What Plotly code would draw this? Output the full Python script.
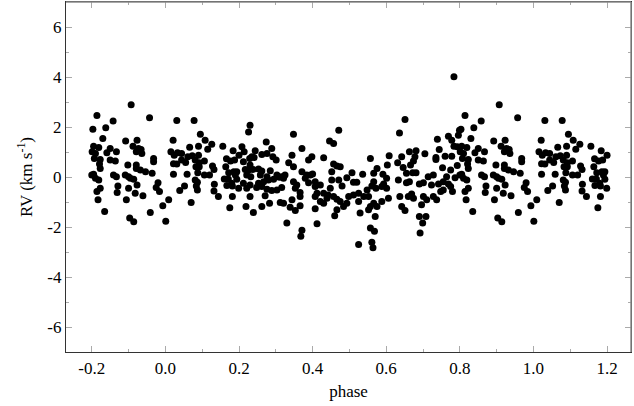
import plotly.graph_objects as go

# phase-folded radial velocities, one cycle (phase 0..1)
phase = [
    0.031, 0.078, 0.095, 0.108, 0.021, 0.126, 0.115, 0.066, 0.090, 0.156, 0.184, 0.015,
    0.033, 0.044, 0.024, 0.061, 0.073, 0.090, 0.081, 0.106, 0.092, 0.128, 0.166, 0.177,
    0.188, 0.022, 0.031, 0.044, 0.055, 0.083, 0.092, 0.132, 0.088, 0.106, 0.120, 0.059,
    0.022, 0.164, 0.172, 0.186, 0.081, 0.087, 0.160, 0.171, 0.180, 0.133, 0.167, 0.182,
    0.084, 0.087, 0.052, 0.039, 0.132, 0.144, 0.182, 0.009, 0.070, 0.175, 0.001,
    # 0.19 - 0.39
    0.230, 0.226, 0.348, 0.274, 0.289, 0.208, 0.214, 0.200, 0.244, 0.262, 0.276, 0.371,
    0.344, 0.235, 0.229, 0.241, 0.292, 0.301, 0.212, 0.230, 0.335, 0.348, 0.389, 0.217,
    0.226, 0.238, 0.253, 0.262, 0.285, 0.194, 0.190, 0.221, 0.232, 0.258, 0.276, 0.303,
    0.316, 0.325, 0.371, 0.384, 0.194, 0.212, 0.230, 0.253, 0.267, 0.280, 0.294, 0.310,
    0.321, 0.348, 0.357, 0.380, 0.389, 0.199, 0.221, 0.248, 0.262, 0.276, 0.289, 0.303,
    0.316, 0.353, 0.366, 0.230, 0.271, 0.366, 0.344, 0.312, 0.321, 0.283, 0.262, 0.219,
    0.239, 0.339, 0.353, 0.366, 0.330, 0.371, 0.368,
    # 0.39 - 0.60
    0.471, 0.446, 0.457, 0.398, 0.430, 0.557, 0.457, 0.466, 0.475, 0.575, 0.591, 0.566,
    0.394, 0.400, 0.452, 0.507, 0.536, 0.493, 0.511, 0.520, 0.471, 0.452, 0.566, 0.593,
    0.407, 0.421, 0.407, 0.480, 0.448, 0.561, 0.548, 0.572, 0.588, 0.412, 0.407, 0.430,
    0.442, 0.421, 0.430, 0.439, 0.457, 0.466, 0.475, 0.498, 0.511, 0.525, 0.539, 0.552,
    0.525, 0.493, 0.484, 0.557, 0.566, 0.575, 0.588, 0.407, 0.466, 0.460, 0.529, 0.552,
    0.570, 0.412, 0.557, 0.568, 0.525, 0.561, 0.564,
    # 0.60 - 0.80
    0.784, 0.651, 0.636, 0.739, 0.769, 0.778, 0.796, 0.799, 0.744, 0.784, 0.793, 0.608,
    0.642, 0.663, 0.681, 0.705, 0.735, 0.760, 0.778, 0.678, 0.674, 0.666, 0.603, 0.631,
    0.646, 0.681, 0.672, 0.655, 0.753, 0.775, 0.793, 0.735, 0.601, 0.633, 0.655, 0.663,
    0.690, 0.701, 0.714, 0.728, 0.723, 0.742, 0.755, 0.764, 0.787, 0.800, 0.769, 0.775,
    0.780, 0.755, 0.748, 0.601, 0.637, 0.660, 0.669, 0.674, 0.701, 0.710, 0.728, 0.737,
    0.606, 0.642, 0.651, 0.696, 0.690, 0.708, 0.699, 0.692,
    # 0.80 - 1.00
    0.907, 0.814, 0.957, 0.858, 0.838, 0.803, 0.830, 0.892, 0.923, 0.805, 0.819, 0.912,
    0.927, 0.934, 0.850, 0.801, 0.810, 0.841, 0.867, 0.921, 0.936, 0.968, 0.968, 0.807,
    0.823, 0.850, 0.864, 0.821, 0.823, 0.898, 0.921, 0.921, 0.932, 0.946, 0.964, 0.805,
    0.859, 0.867, 0.891, 0.900, 0.905, 0.914, 0.810, 0.819, 0.980, 0.975, 0.923, 0.871,
    0.900, 0.823, 0.814, 0.869, 0.918, 0.939, 0.984, 0.817, 0.894, 0.993, 0.959, 0.835,
    0.903, 0.914,
]

rv = [
    2.26, 2.26, 1.71, 1.47, 1.47, 1.31, 1.11, 1.19, 1.23, 1.23, 1.05, 1.01,
    0.97, 0.94, 0.87, 0.81, 0.85, 0.87, 0.68, 0.64, 0.57, 0.44, 0.73, 0.64,
    0.68, 0.53, 0.52, 0.68, 0.58, 0.41, 0.41, 0.30, 0.17, 0.08, 0.08, 0.11,
    0.11, 0.41, 0.17, 0.21, -0.12, -0.21, -0.08, -0.08, -0.25, -0.29, -0.34, -0.36,
    -0.36, -0.52, -0.36, -0.54, -0.56, -0.78, -0.78, -0.91, -1.02, -1.23, -1.77,
    # 0.19 - 0.39
    2.07, 1.80, 1.71, 1.40, 1.14, 1.21, 1.01, 0.87, 1.05, 0.90, 0.94, 1.14,
    0.87, 0.81, 0.74, 0.78, 0.81, 0.68, 0.61, 0.48, 0.57, 0.41, 0.68, 0.30,
    0.28, 0.30, 0.32, 0.24, 0.25, 0.21, 0.08, 0.08, 0.01, 0.08, 0.01, 0.08,
    0.01, 0.08, 0.21, 0.08, -0.09, -0.25, -0.32, -0.25, -0.19, -0.12, -0.09, -0.01,
    -0.05, -0.19, -0.32, -0.05, -0.23, -0.45, -0.45, -0.42, -0.38, -0.49, -0.54, -0.52,
    -0.42, -0.45, -0.62, -0.78, -0.75, -0.78, -0.91, -1.02, -1.05, -1.05, -1.18, -1.18,
    -1.42, -1.21, -1.34, -1.15, -1.84, -2.13, -2.37,
    # 0.39 - 0.60
    1.87, 1.44, 1.34, 0.81, 0.77, 0.74, 0.52, 0.44, 0.41, 0.34, 0.11, 0.15,
    0.08, 0.12, 0.21, 0.17, 0.11, -0.03, -0.21, -0.21, -0.12, -0.12, -0.19, -0.28,
    -0.19, -0.32, -0.38, -0.36, -0.45, -0.36, -0.52, -0.45, -0.38, -0.65, -0.78, -0.65,
    -0.72, -0.98, -1.05, -0.85, -0.78, -0.89, -0.98, -0.78, -0.72, -0.65, -0.78, -0.78,
    -0.98, -1.05, -1.18, -1.18, -1.05, -1.18, -0.98, -1.27, -1.31, -1.55, -1.44, -1.31,
    -1.58, -1.87, -2.04, -2.17, -2.70, -2.61, -2.83,
    # 0.60 - 0.80
    4.01, 2.30, 1.76, 1.51, 1.63, 1.47, 1.67, 1.87, 1.10, 1.23, 1.21, 0.85,
    0.81, 1.01, 1.05, 0.93, 0.78, 0.83, 0.83, 0.81, 0.64, 0.48, 0.48, 0.57,
    0.38, 0.17, 0.17, 0.15, 0.37, 0.28, 0.46, 0.70, -0.05, -0.12, -0.23, -0.19,
    -0.28, -0.23, 0.01, 0.08, -0.32, -0.28, -0.19, 0.01, -0.03, 0.08, -0.28, -0.38,
    -0.58, -0.52, -0.58, -0.45, -0.78, -0.78, -0.68, -0.85, -0.78, -0.91, -0.78, -0.91,
    -0.85, -1.18, -1.34, -1.11, -1.58, -1.58, -1.84, -2.24,
    # 0.80 - 1.00
    2.89, 2.46, 2.37, 2.24, 1.97, 1.91, 1.54, 1.44, 1.47, 1.23, 1.18, 1.23,
    1.14, 1.10, 1.14, 1.01, 0.94, 0.97, 1.01, 1.01, 0.94, 0.74, 0.61, 0.74,
    0.70, 0.68, 0.64, 0.52, 0.34, 0.48, 0.48, 0.34, 0.28, 0.21, 0.15, 0.11,
    0.08, 0.01, 0.08, 0.01, -0.05, -0.09, -0.05, -0.12, -0.23, -0.42, -0.32, -0.36,
    -0.45, -0.45, -0.58, -0.62, -0.65, -0.75, -0.58, -0.91, -0.91, -1.15, -1.42, -1.38,
    -1.64, -1.79,
]

x_ticks = [-0.2, 0.0, 0.2, 0.4, 0.6, 0.8, 1.0, 1.2]
y_ticks = [-6, -4, -2, 0, 2, 4, 6]

# the cycle is repeated on either side, shown from phase -0.2 to 1.2
x_all, y_all = [], []
for shift in (-1, 0, 1):
    for p, v in zip(phase, rv):
        if -0.2 <= p + shift <= 1.2:
            x_all.append(p + shift)
            y_all.append(v)

serif = '"Liberation Serif", "Times New Roman", serif'

fig = go.Figure(
    go.Scatter(
        x=x_all,
        y=y_all,
        mode="markers",
        marker=dict(size=7, color="black", line=dict(width=0)),
        hoverinfo="skip",
    )
)

fig.update_layout(
    width=634,
    height=406,
    margin=dict(l=66, r=3, t=2, b=54),
    paper_bgcolor="white",
    plot_bgcolor="white",
    showlegend=False,
    font=dict(family=serif, size=17, color="black"),
    # top and right edges of the frame are lighter than the axes
    shapes=[
        dict(type="line", xref="paper", yref="paper", x0=0, x1=1, y0=1, y1=1,
             line=dict(color="#8a8a8a", width=1.5), layer="above"),
        dict(type="line", xref="paper", yref="paper", x0=1, x1=1, y0=0, y1=1,
             line=dict(color="#8a8a8a", width=1.5), layer="above"),
    ],
)

fig.update_xaxes(
    range=[-0.27, 1.265],
    tickvals=x_ticks,
    ticktext=[f"{v:.1f}" for v in x_ticks],
    ticks="inside",
    ticklen=6,
    tickcolor="#aaaaaa",
    minor=dict(dtick=0.1, ticks="inside", ticklen=3, tickcolor="#aaaaaa"),
    showgrid=False,
    zeroline=False,
    showline=True,
    linecolor="#333333",
    linewidth=1.3,
    mirror="ticks",
    title=dict(text="phase", font=dict(family=serif, size=17), standoff=8),
)

fig.update_yaxes(
    range=[-7, 7],
    tickvals=y_ticks,
    ticktext=[str(v) for v in y_ticks],
    ticks="inside",
    ticklen=6,
    tickcolor="#aaaaaa",
    minor=dict(dtick=1, ticks="inside", ticklen=3, tickcolor="#aaaaaa"),
    showgrid=False,
    zeroline=False,
    showline=True,
    linecolor="#333333",
    linewidth=1.3,
    mirror="ticks",
    title=dict(text="RV (km s<sup>-1</sup>)", font=dict(family=serif, size=17), standoff=10),
)

# page body margin would otherwise push the figure 8 px off the window
fig.write_html(
    "out.html",
    config={"displayModeBar": False},
    post_script="document.body.style.margin = '0';",
)
